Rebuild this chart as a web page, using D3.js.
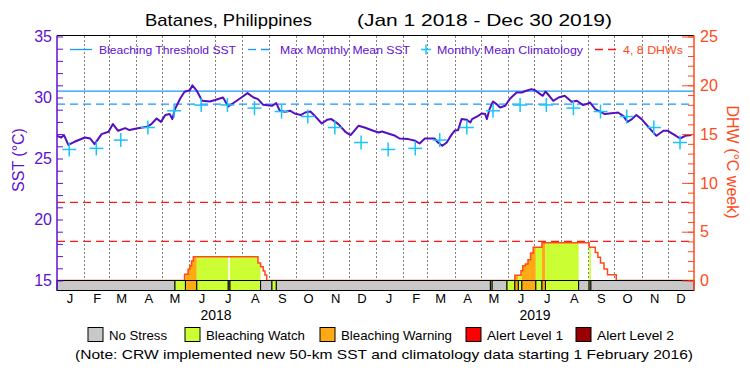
<!DOCTYPE html>
<html>
<head>
<meta charset="utf-8">
<script src="https://cdn.jsdelivr.net/npm/d3@7"></script>
<style>
  body { margin: 0; background: #fff; }
  svg { display: block; font-family: "Liberation Sans", Arial, sans-serif; }
</style>
</head>
<body>
<svg id="chart"></svg>
<script>
const monthLetters = ["J", "F", "M", "A", "M", "J", "J", "A", "S", "O", "N", "D"];
const years = [2018, 2019];
const sstTicks = [15, 20, 25, 30, 35];
const dhwTicks = [0, 5, 10, 15, 20, 25];

// daily SST (roughly every 5 days)
const sst = [
    ["2018-01-01", 26.86], ["2018-01-06", 26.72], ["2018-01-09", 26.92], ["2018-01-14", 26.12],
    ["2018-01-21", 26.37], ["2018-02-02", 26.72], ["2018-02-08", 26.64], ["2018-02-13", 26.18],
    ["2018-02-21", 27.0], ["2018-03-01", 27.19], ["2018-03-06", 27.82], ["2018-03-12", 27.27],
    ["2018-03-20", 27.49], ["2018-03-25", 27.33], ["2018-04-02", 27.46], ["2018-04-14", 27.6],
    ["2018-04-19", 27.82], ["2018-04-25", 28.28], ["2018-04-30", 28.0], ["2018-05-05", 28.56],
    ["2018-05-10", 28.64], ["2018-05-13", 28.23], ["2018-05-16", 29.05], ["2018-05-22", 29.92],
    ["2018-05-27", 30.47], ["2018-06-02", 30.6], ["2018-06-05", 31.0], ["2018-06-10", 30.55],
    ["2018-06-16", 29.73], ["2018-06-25", 29.67], ["2018-07-01", 29.79], ["2018-07-10", 30.0],
    ["2018-07-16", 29.26], ["2018-07-24", 29.65], ["2018-07-31", 30.0], ["2018-08-07", 30.36],
    ["2018-08-14", 30.0], ["2018-08-19", 29.87], ["2018-08-25", 29.4], ["2018-09-04", 29.32],
    ["2018-09-09", 29.54], ["2018-09-13", 28.91], ["2018-09-19", 28.83], ["2018-09-25", 28.91],
    ["2018-09-30", 28.69], ["2018-10-07", 28.56], ["2018-10-12", 28.77], ["2018-10-18", 28.85],
    ["2018-10-23", 28.5], ["2018-10-31", 27.87], ["2018-11-06", 28.17], ["2018-11-11", 28.23],
    ["2018-11-19", 27.82], ["2018-11-27", 27.19], ["2018-12-03", 26.92], ["2018-12-12", 27.68],
    ["2018-12-19", 27.54], ["2018-12-29", 27.27], ["2019-01-04", 27.13], ["2019-01-08", 27.21],
    ["2019-01-15", 27.05], ["2019-01-23", 26.86], ["2019-01-28", 26.64], ["2019-02-07", 26.59],
    ["2019-02-15", 26.45], ["2019-02-20", 26.23], ["2019-02-26", 26.64], ["2019-03-09", 26.64],
    ["2019-03-13", 26.31], ["2019-03-18", 26.04], ["2019-03-23", 26.31], ["2019-03-29", 27.0],
    ["2019-04-01", 27.27], ["2019-04-05", 27.33], ["2019-04-09", 28.23], ["2019-04-15", 28.17],
    ["2019-04-19", 27.95], ["2019-04-21", 28.23], ["2019-04-28", 28.5], ["2019-05-02", 28.69],
    ["2019-05-06", 28.64], ["2019-05-08", 28.23], ["2019-05-11", 29.05], ["2019-05-15", 29.67],
    ["2019-05-19", 29.46], ["2019-05-23", 29.18], ["2019-05-29", 29.32], ["2019-06-03", 29.87],
    ["2019-06-11", 30.41], ["2019-06-17", 30.41], ["2019-06-22", 30.55], ["2019-06-28", 30.69],
    ["2019-07-02", 30.6], ["2019-07-08", 30.28], ["2019-07-11", 30.14], ["2019-07-14", 30.49],
    ["2019-07-19", 30.08], ["2019-07-23", 29.73], ["2019-07-29", 30.0], ["2019-08-05", 30.14],
    ["2019-08-13", 29.65], ["2019-08-19", 29.73], ["2019-08-26", 29.38], ["2019-08-30", 29.46],
    ["2019-09-03", 29.59], ["2019-09-09", 29.05], ["2019-09-20", 28.64], ["2019-09-30", 28.72],
    ["2019-10-05", 28.77], ["2019-10-11", 28.5], ["2019-10-16", 28.0], ["2019-10-21", 28.23],
    ["2019-10-26", 28.56], ["2019-11-01", 28.23], ["2019-11-11", 27.41], ["2019-11-18", 26.86],
    ["2019-11-26", 27.27], ["2019-12-01", 27.27], ["2019-12-09", 26.92], ["2019-12-15", 26.64],
    ["2019-12-21", 26.86], ["2019-12-28", 26.92]
];

// monthly mean climatology, Jan..Dec
const climatology = [25.74, 25.83, 26.51, 27.54, 28.91, 29.38, 29.39, 29.13, 28.85, 28.44, 27.54, 26.31];
const mmm = 29.46;
const threshold = 30.52;
const dhwLines = [4, 8];

// degree heating weeks (step values)
const dhw = [
    ["2018-01-01", 0], ["2018-05-27", 0.63], ["2018-05-31", 1.15], ["2018-06-02", 1.5],
    ["2018-06-04", 2.0], ["2018-06-06", 2.43], ["2018-08-19", 1.8], ["2018-08-22", 1.4],
    ["2018-08-25", 0.97], ["2018-08-27", 0.56], ["2018-08-29", 0],
    ["2019-06-09", 0.53], ["2019-06-16", 1.0], ["2019-06-18", 1.51], ["2019-06-21", 1.7],
    ["2019-06-24", 2.13], ["2019-06-27", 2.81], ["2019-06-30", 3.4], ["2019-07-10", 3.88],
    ["2019-09-02", 3.4], ["2019-09-09", 2.88], ["2019-09-12", 2.37], ["2019-09-15", 1.79],
    ["2019-09-19", 1.18], ["2019-09-23", 0.6], ["2019-10-03", 0], ["2019-12-31", 0]
];

// stress level periods: start, end, level
const stress = [
    ["2018-01-01", "2018-05-16", 0], ["2018-05-16", "2018-05-28", 1], ["2018-05-28", "2018-06-10", 2],
    ["2018-06-10", "2018-07-16", 1], ["2018-07-16", "2018-07-18", 0], ["2018-07-18", "2018-08-22", 1],
    ["2018-08-22", "2018-09-04", 0], ["2018-09-04", "2018-09-09", 1], ["2018-09-09", "2019-05-12", 0],
    ["2019-05-12", "2019-05-14", 1], ["2019-05-14", "2019-05-31", 0], ["2019-05-31", "2019-06-09", 1],
    ["2019-06-09", "2019-06-13", 2], ["2019-06-13", "2019-06-17", 1], ["2019-06-17", "2019-07-03", 2],
    ["2019-07-03", "2019-07-10", 1], ["2019-07-10", "2019-07-14", 2], ["2019-07-14", "2019-08-21", 1],
    ["2019-08-21", "2019-09-02", 0], ["2019-09-02", "2019-09-04", 1], ["2019-09-04", "2019-12-31", 0]
];

const stressNames = ["No Stress", "Bleaching Watch", "Bleaching Warning", "Alert Level 1", "Alert Level 2"];
const stressColors = ["#c8c8c8", "#ccff33", "#ffaa14", "#ff0000", "#990000"];

const width = 750;
const height = 375;
const plotLeft = 57, plotRight = 694, plotTop = 35.5, plotBottom = 290.5;
const purple = "#6010d0";
const lineColor = "#5410c0";
const blue = "#1a96ff";
const cyan = "#18c4f8";
const red = "#ff4a1a";

const parse = d3.utcParse("%Y-%m-%d");
const sstData = sst.map(d => ({ date: parse(d[0]), value: d[1] }));
const dhwData = dhw.map(d => ({ date: parse(d[0]), value: d[1] }));
const stressData = stress.map(d => ({ start: parse(d[0]), end: parse(d[1]), level: d[2] }));

let svg = d3.select("#chart").attr("width", width).attr("height", height);
let defs = svg.append("defs");

let x = d3.scaleUtc().domain([parse("2018-01-01"), parse("2019-12-31")]).range([plotLeft, plotRight]);
let ySST = d3.scaleLinear().domain([15, 35]).range([280.5, 36.5]);
let yDHW = d3.scaleLinear().domain([0, 25]).range([280.5, 36.5]);

// title
let title = svg.append("text").attr("y", 26).attr("font-size", 17).attr("fill", "#000");
title.append("tspan").attr("x", 145).attr("textLength", 167).attr("lengthAdjust", "spacingAndGlyphs")
    .text("Batanes, Philippines");
title.append("tspan").attr("x", 357).attr("textLength", 255).attr("lengthAdjust", "spacingAndGlyphs")
    .text("(Jan 1 2018 - Dec 30 2019)");

// dotted month separators
let monthStarts = d3.utcMonth.range(parse("2018-02-01"), parse("2019-12-31"));
svg.append("g").selectAll("line").data(monthStarts).enter().append("line")
    .attr("x1", d => Math.round(x(d)) + 0.5).attr("x2", d => Math.round(x(d)) + 0.5)
    .attr("y1", plotTop + 1).attr("y2", 280)
    .attr("stroke", "#000").attr("stroke-width", 1).attr("stroke-dasharray", "1,3");

// threshold and MMM
svg.append("line").attr("x1", plotLeft).attr("x2", plotRight)
    .attr("y1", ySST(threshold)).attr("y2", ySST(threshold))
    .attr("stroke", blue).attr("stroke-width", 1.3);
svg.append("line").attr("x1", plotLeft).attr("x2", plotRight)
    .attr("y1", ySST(mmm)).attr("y2", ySST(mmm))
    .attr("stroke", blue).attr("stroke-width", 1.3).attr("stroke-dasharray", "8,5");

// 4 and 8 DHW lines
svg.append("g").selectAll("line").data(dhwLines).enter().append("line")
    .attr("x1", plotLeft).attr("x2", plotRight)
    .attr("y1", d => yDHW(d)).attr("y2", d => yDHW(d))
    .attr("stroke", "#ff1a1a").attr("stroke-width", 1.3).attr("stroke-dasharray", "8,5");

// DHW fill coloured by stress level
let dhwArea = d3.area().curve(d3.curveStepAfter)
    .x(d => x(d.date)).y0(yDHW(0)).y1(d => yDHW(d.value));
stressData.filter(s => s.level > 0).forEach((s, i) => {
    let id = "clipStress" + i;
    defs.append("clipPath").attr("id", id).append("rect")
        .attr("x", x(s.start)).attr("width", x(s.end) - x(s.start))
        .attr("y", 0).attr("height", height);
    svg.append("path").datum(dhwData)
        .attr("clip-path", `url(#${id})`)
        .attr("fill", stressColors[s.level])
        .attr("d", dhwArea);
});

// DHW step line
defs.append("clipPath").attr("id", "clipDhw").append("rect")
    .attr("x", plotLeft).attr("y", plotTop).attr("width", plotRight - plotLeft).attr("height", yDHW(0) - plotTop - 0.6);
svg.append("path").datum(dhwData)
    .attr("clip-path", "url(#clipDhw)")
    .attr("fill", "none").attr("stroke", red).attr("stroke-width", 1.5)
    .attr("d", d3.line().curve(d3.curveStepAfter).x(d => x(d.date)).y(d => yDHW(d.value)));

// SST line
svg.append("path").datum(sstData)
    .attr("fill", "none").attr("stroke", lineColor).attr("stroke-width", 2)
    .attr("stroke-linejoin", "round")
    .attr("d", d3.line().x(d => x(d.date)).y(d => ySST(d.value)));

// climatology crosses
let climData = [];
years.forEach(yr => {
    climatology.forEach((v, m) => climData.push({ date: new Date(Date.UTC(yr, m, 15)), value: v }));
});
let plus = svg.append("g").selectAll("g").data(climData).enter().append("g")
    .attr("transform", d => `translate(${x(d.date)}, ${ySST(d.value)})`)
    .attr("stroke", cyan).attr("stroke-width", 1.5);
plus.append("line").attr("x1", -7).attr("x2", 7);
plus.append("line").attr("y1", -7).attr("y2", 7);

// stress strip
svg.append("g").selectAll("rect").data(stressData).enter().append("rect")
    .attr("x", d => x(d.start)).attr("width", d => x(d.end) - x(d.start))
    .attr("y", 280.5).attr("height", 10)
    .attr("fill", d => stressColors[d.level])
    .attr("stroke", "#000").attr("stroke-width", 1);

// frame
svg.append("line").attr("x1", plotLeft).attr("x2", plotRight).attr("y1", plotTop).attr("y2", plotTop)
    .attr("stroke", "#000").attr("stroke-width", 1.2);

// left axis
let axisL = d3.axisLeft(ySST).tickValues(d3.range(15, 36)).tickSizeInner(-6).tickSizeOuter(0)
    .tickPadding(5).tickFormat(d => sstTicks.includes(d) ? d : "");
let gL = svg.append("g").attr("transform", `translate(${plotLeft}, 0)`).call(axisL);
gL.select(".domain").remove();
gL.selectAll("line").attr("stroke", purple);
gL.selectAll("text").attr("fill", purple).attr("font-size", 16).attr("font-family", "Liberation Sans, Arial, sans-serif");
svg.append("line").attr("x1", plotLeft).attr("x2", plotLeft).attr("y1", plotTop).attr("y2", plotBottom)
    .attr("stroke", purple).attr("stroke-width", 1.5);
svg.append("text").attr("transform", "translate(24, 160) rotate(-90)")
    .attr("text-anchor", "middle").attr("font-size", 16).attr("fill", purple)
    .text("SST (°C)");

// right axis
let axisR = d3.axisRight(yDHW).tickValues(d3.range(0, 26)).tickSizeInner(-6).tickSizeOuter(0)
    .tickFormat("");
let gR = svg.append("g").attr("transform", `translate(${plotRight}, 0)`).call(axisR);
gR.select(".domain").remove();
gR.selectAll("line").attr("stroke", red);
let axisR5 = d3.axisRight(yDHW).tickValues(dhwTicks).tickSizeInner(-12).tickSizeOuter(0).tickPadding(6);
let gR5 = svg.append("g").attr("transform", `translate(${plotRight}, 0)`).call(axisR5);
gR5.select(".domain").remove();
gR5.selectAll("line").attr("stroke", red);
gR5.selectAll("text").attr("fill", red).attr("font-size", 16).attr("font-family", "Liberation Sans, Arial, sans-serif");
svg.append("line").attr("x1", plotRight).attr("x2", plotRight).attr("y1", plotTop).attr("y2", plotBottom)
    .attr("stroke", red).attr("stroke-width", 1.5);
svg.append("text").attr("transform", "translate(727, 162) rotate(90)")
    .attr("text-anchor", "middle").attr("font-size", 16).attr("fill", red)
    .text("DHW (°C week)");

// month and year labels
let monthAll = d3.utcMonth.range(parse("2018-01-01"), parse("2019-12-31"));
svg.append("g").selectAll("text").data(monthAll).enter().append("text")
    .attr("x", d => x(d3.utcDay.offset(d, 15)))
    .attr("y", 303).attr("text-anchor", "middle").attr("font-size", 13).attr("fill", "#000")
    .text(d => monthLetters[d.getUTCMonth()]);
svg.append("g").selectAll("text").data(years).enter().append("text")
    .attr("x", d => x(new Date(Date.UTC(d, 6, 2))))
    .attr("y", 320).attr("text-anchor", "middle").attr("font-size", 14).attr("fill", "#000")
    .text(d => d);

// top legend
let lg = svg.append("g").attr("font-size", 11.5);
lg.append("line").attr("x1", 70).attr("x2", 92).attr("y1", 49.5).attr("y2", 49.5)
    .attr("stroke", blue).attr("stroke-width", 1.3);
lg.append("text").attr("x", 99).attr("y", 54).attr("fill", purple)
    .attr("textLength", 137).attr("lengthAdjust", "spacingAndGlyphs").text("Bleaching Threshold SST");
lg.append("line").attr("x1", 248).attr("x2", 273).attr("y1", 49.5).attr("y2", 49.5)
    .attr("stroke", blue).attr("stroke-width", 1.3).attr("stroke-dasharray", "8,5");
lg.append("text").attr("x", 280).attr("y", 54).attr("fill", purple)
    .attr("textLength", 130).attr("lengthAdjust", "spacingAndGlyphs").text("Max Monthly Mean SST");
lg.append("line").attr("x1", 421).attr("x2", 431).attr("y1", 49.5).attr("y2", 49.5)
    .attr("stroke", cyan).attr("stroke-width", 1.5);
lg.append("line").attr("x1", 426).attr("x2", 426).attr("y1", 44.5).attr("y2", 54.5)
    .attr("stroke", cyan).attr("stroke-width", 1.5);
lg.append("text").attr("x", 437).attr("y", 54).attr("fill", purple)
    .attr("textLength", 146).attr("lengthAdjust", "spacingAndGlyphs").text("Monthly Mean Climatology");
lg.append("line").attr("x1", 595).attr("x2", 618).attr("y1", 49.5).attr("y2", 49.5)
    .attr("stroke", "#ff1a1a").attr("stroke-width", 1.3).attr("stroke-dasharray", "8,5");
lg.append("text").attr("x", 623).attr("y", 54).attr("fill", red)
    .attr("textLength", 60).attr("lengthAdjust", "spacingAndGlyphs").text("4, 8 DHWs");

// stress legend
const boxX = [88, 185, 320, 466, 576];
const textW = [58, 99, 111, 76, 77];
let sl = svg.append("g").selectAll("g").data(stressNames).enter().append("g")
    .attr("transform", (d, i) => `translate(${boxX[i]}, 327.5)`);
sl.append("rect").attr("width", 15).attr("height", 14)
    .attr("fill", (d, i) => stressColors[i]).attr("stroke", "#000");
sl.append("text").attr("x", 21).attr("y", 12).attr("font-size", 13).attr("fill", "#000")
    .attr("textLength", (d, i) => textW[i]).attr("lengthAdjust", "spacingAndGlyphs")
    .text(d => d);

svg.append("text").attr("x", 75).attr("y", 359).attr("font-size", 13).attr("fill", "#000")
    .attr("textLength", 618).attr("lengthAdjust", "spacingAndGlyphs")
    .text("(Note: CRW implemented new 50-km SST and climatology data starting 1 February 2016)");
</script>
</body>
</html>
